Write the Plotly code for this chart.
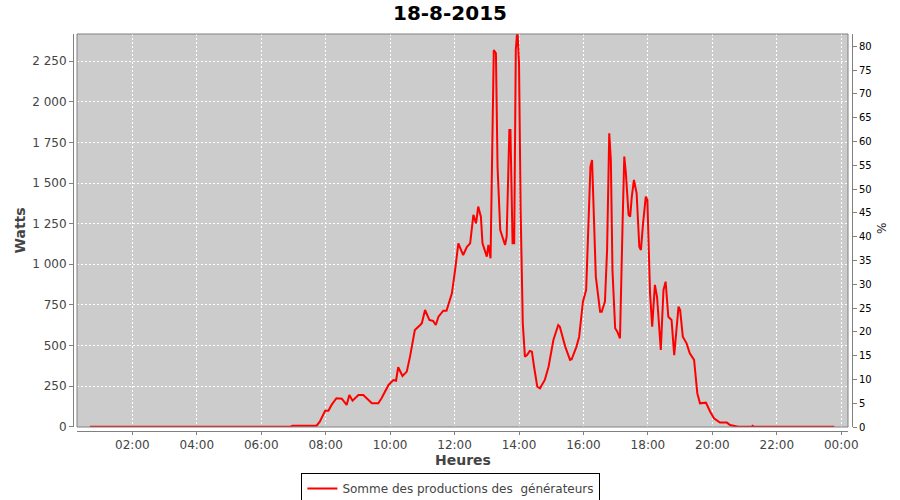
import plotly.graph_objects as go

# ---- data ----
day = "2015-08-18"
times = ["00:41", "01:30", "02:37", "02:40", "02:43", "03:20", "03:23", "03:26",
         "04:00", "04:03", "04:06", "04:50", "04:53", "04:56", "05:40", "05:43", "05:46",
         "06:55", "06:58", "07:40", "07:43", "07:49", "07:59", "08:05", "08:11", "08:20",
         "08:30", "08:39", "08:44", "08:50", "09:01", "09:10", "09:16", "09:26", "09:38",
         "09:44", "09:57", "10:06", "10:11", "10:15", "10:23", "10:31", "10:37", "10:46",
         "10:56", "10:59", "11:05", "11:13", "11:20", "11:25", "11:30", "11:39", "11:45",
         "11:55", "12:01", "12:07", "12:16", "12:23", "12:29", "12:35", "12:40", "12:44",
         "12:49", "12:52", "13:00", "13:03", "13:07", "13:13", "13:17", "13:20", "13:25",
         "13:34", "13:37", "13:42", "13:44", "13:48", "13:51", "13:54", "13:57", "14:00",
         "14:03", "14:07", "14:11", "14:15", "14:20", "14:24", "14:28", "14:34", "14:39",
         "14:48", "14:55", "15:04", "15:13", "15:16", "15:26", "15:35", "15:38", "15:47",
         "15:52", "15:59", "16:05", "16:09", "16:13", "16:16", "16:20", "16:23", "16:31",
         "16:34", "16:40", "16:44", "16:48", "16:51", "16:54", "16:59", "17:03", "17:08",
         "17:13", "17:16", "17:19", "17:24", "17:27", "17:30", "17:34", "17:39", "17:44",
         "17:47", "17:51", "17:56", "17:59", "18:04", "18:08", "18:13", "18:17", "18:24",
         "18:29", "18:33", "18:38", "18:44", "18:49", "18:57", "19:00", "19:05", "19:12",
         "19:18", "19:26", "19:32", "19:37", "19:48", "19:56", "20:03", "20:14", "20:27",
         "20:33", "20:45", "20:48", "21:13", "21:15", "21:17", "23:00", "23:03", "23:06",
         "23:47"]
watts = [0, 0, 0, 4, 0, 0, 4, 0,
         0, 4, 0, 0, 4, 0, 0, 4, 0,
         0, 6, 6, 6, 31, 98, 98, 134, 175,
         172, 134, 195, 160, 195, 195, 175, 144, 144,
         175, 257, 287, 283, 366, 312, 339, 431, 595,
         626, 637, 719, 657, 651, 626, 677, 714, 714,
         821, 965, 1129, 1057, 1108, 1129, 1304, 1252, 1355,
         1293, 1129, 1047, 1119, 1037, 2320, 2299, 1601, 1211,
         1119, 1170, 1827, 1827, 1129, 1129, 2320, 2450, 2238,
         1334, 637, 431, 441, 466, 462, 369, 246, 236,
         288, 369, 534, 626, 616, 493, 411, 415, 493,
         554, 770, 842, 1232, 1601, 1642, 1273, 924, 708,
         708, 770, 1088, 1807, 1642, 965, 606, 585, 544,
         1273, 1663, 1560, 1304, 1293, 1417, 1519, 1437, 1108,
         1088, 1252, 1417, 1396, 821, 616, 873, 800, 472,
         842, 893, 677, 657, 441, 739, 719, 554, 513,
         452, 411, 206, 144, 148, 92, 52, 25, 25,
         10, 4, 0, 0, 5, 0, 0, 4, 0,
         0]

watt_ticks = [0, 250, 500, 750, 1000, 1250, 1500, 1750, 2000, 2250]
watt_tick_labels = ["0", "250", "500", "750", "1 000", "1 250", "1 500", "1 750", "2 000", "2 250"]
pct_ticks = list(range(0, 85, 5))
watt_range = [-2, 2418]
pct_range = [0, 82.6]
x_range = ["2015-08-18 00:16:54", "2015-08-19 00:12:36"]

title_text = "18-8-2015"
series_name = "Somme des productions des \u00a0générateurs"

x = [f"{day} {t}" for t in times]

FONT = "DejaVu Sans"
GRID = dict(gridcolor="white", griddash="2px,2px", gridwidth=1)

fig = go.Figure()
fig.add_trace(go.Scatter(
    x=x, y=watts, mode="lines", name=series_name,
    line=dict(color="#FF0000", width=2),
))
fig.add_trace(go.Scatter(
    x=[x[0]], y=[0], yaxis="y2", mode="markers", marker=dict(opacity=0),
    showlegend=False, hoverinfo="skip",
))

# plot area: x 77..848, y 34..427 ; axes offset by 4 px
L, R, T, B = 73, 48, 34, 69
W_PAPER = 900 - L - R
H_PAPER = 500 - T - B

fig.update_layout(
    width=900, height=500,
    margin=dict(l=L, r=R, t=T, b=B, pad=0, autoexpand=False),
    paper_bgcolor="white",
    plot_bgcolor="#CCCCCC",
    font=dict(family=FONT, size=12, color="#444444"),
    title=dict(text=f"<b>{title_text}</b>", x=0.5, xanchor="center", xref="container",
               y=1 - 13 / 500, yanchor="middle", yref="container",
               font=dict(family=FONT, size=20, color="black")),
    xaxis=dict(
        type="date", range=x_range, domain=[4 / W_PAPER, 1 - 4 / W_PAPER],
        anchor="free", position=0, automargin=False,
        tick0=f"{day} 00:00", dtick=7200000, tickformat="%H:%M",
        showgrid=True, **GRID,
        showline=True, linecolor="#808080", linewidth=1,
        ticks="outside", ticklen=3, tickcolor="#808080",
        tickfont=dict(family=FONT, size=12, color="#444444"),
        zeroline=False,
    ),
    yaxis=dict(
        range=watt_range, domain=[4 / H_PAPER, 1],
        anchor="free", position=0, automargin=False,
        tickvals=watt_ticks, ticktext=watt_tick_labels,
        showgrid=True, **GRID,
        showline=True, linecolor="#808080", linewidth=1,
        ticks="outside", ticklen=4, tickcolor="#808080",
        tickfont=dict(family=FONT, size=12, color="#444444"),
        zeroline=False,
    ),
    yaxis2=dict(
        range=pct_range, overlaying="y", side="right",
        anchor="free", position=1, automargin=False,
        tickvals=pct_ticks,
        showgrid=False,
        showline=True, linecolor="#808080", linewidth=1,
        ticks="outside", ticklen=4, tickcolor="#808080",
        tickfont=dict(family=FONT, size=10, color="black"),
        zeroline=False,
    ),
    legend=dict(
        orientation="h", xref="container", yref="container",
        x=0.501, xanchor="center", y=0.054, yanchor="top",
        bordercolor="black", borderwidth=1, bgcolor="white",
        font=dict(family=FONT, size=12, color="#444444"),
        itemwidth=30,
    ),
    showlegend=True,
    shapes=[dict(type="rect", xref="x domain", yref="y domain", x0=0, x1=1, y0=0, y1=1,
                 line=dict(color="#808080", width=1), fillcolor="rgba(0,0,0,0)", layer="above")],
    annotations=[
        dict(text="<b>Watts</b>", xref="paper", yref="paper",
             x=(20 - L) / W_PAPER, y=(500 - B - 230.5) / H_PAPER,
             textangle=-90, showarrow=False, xanchor="center", yanchor="middle",
             font=dict(family=FONT, size=14, color="#444444")),
        dict(text="<b>Heures</b>", xref="paper", yref="paper",
             x=(462.5 - L) / W_PAPER, y=(500 - B - 460) / H_PAPER,
             showarrow=False, xanchor="center", yanchor="middle",
             font=dict(family=FONT, size=14, color="#444444")),
        dict(text="%", xref="paper", yref="paper",
             x=(882 - L) / W_PAPER, y=(500 - B - 229) / H_PAPER,
             textangle=-90, showarrow=False, xanchor="center", yanchor="middle",
             font=dict(family=FONT, size=12, color="#222222")),
    ],
)

fig.write_html("out.html", config={"displayModeBar": False},
               post_script="document.body.style.margin='0';")
